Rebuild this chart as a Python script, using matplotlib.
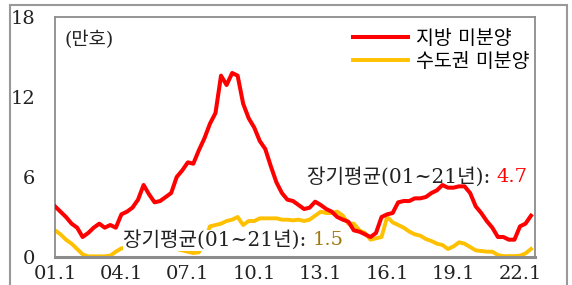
import matplotlib
matplotlib.use('Agg')
import matplotlib.pyplot as plt
import pandas as pd
from matplotlib.patches import Rectangle

# 분기별 시점 (01.1 ~ 22.7)
dates = pd.date_range('2001-01-01', '2022-07-01', freq='3MS')

# 지방 미분양 (만호)
jibang = [3.8, 3.4, 3.0, 2.5, 2.2, 1.5, 1.8, 2.2, 2.5, 2.2, 2.4, 2.2,
          3.2, 3.4, 3.7, 4.3, 5.4, 4.7, 4.1, 4.2, 4.5, 4.8, 6.0, 6.5,
          7.1, 7.0, 8.0, 8.9, 10.0, 10.8, 13.6, 12.9, 13.8, 13.6, 11.5, 10.4,
          9.7, 8.7, 8.1, 6.8, 5.6, 4.8, 4.3, 4.2, 3.9, 3.6, 3.7, 4.15,
          3.9, 3.6, 3.4, 3.0, 2.8, 2.65, 2.0, 1.9, 1.7, 1.5, 1.8, 3.0,
          3.2, 3.3, 4.1, 4.2, 4.2, 4.4, 4.4, 4.5, 4.8, 5.0, 5.4, 5.2,
          5.2, 5.3, 5.3, 4.8, 3.8, 3.3, 2.7, 2.2, 1.5, 1.5, 1.3, 1.3,
          2.3, 2.5, 3.1]

# 수도권 미분양 (만호)
sudo = [2.0, 1.7, 1.3, 1.0, 0.6, 0.2, 0.05, 0.05, 0.05, 0.05, 0.1, 0.4,
        0.65, 0.7, 0.8, 0.9, 1.0, 1.1, 1.0, 0.9, 0.8, 0.7, 0.6, 0.5,
        0.4, 0.3, 0.35, 1.2, 2.3, 2.4, 2.5, 2.7, 2.8, 3.0, 2.4, 2.7,
        2.7, 2.9, 2.9, 2.9, 2.9, 2.8, 2.8, 2.75, 2.8, 2.7, 2.8, 3.1,
        3.4, 3.3, 3.3, 3.4, 3.1, 2.5, 2.5, 2.0, 1.8, 1.3, 1.4, 1.5,
        3.0, 2.6, 2.4, 2.2, 1.9, 1.7, 1.6, 1.35, 1.2, 1.0, 0.9, 0.6,
        0.8, 1.1, 1.0, 0.75, 0.5, 0.45, 0.4, 0.4, 0.15, 0.07, 0.07, 0.07,
        0.1, 0.27, 0.6]

xtick_years = [2001, 2004, 2007, 2010, 2013, 2016, 2019, 2022]
xtick_labels = ['01.1', '04.1', '07.1', '10.1', '13.1', '16.1', '19.1', '22.1']
yticks = [0, 6, 12, 18]

fonts = ['DejaVu Serif', 'Noto Sans CJK KR']
plt.rcParams['font.family'] = fonts

fig = plt.figure(figsize=(5.72, 2.85), dpi=100)
ax = fig.add_axes([0.0962, 0.0982, 0.8391, 0.8422])

# 바깥 테두리
fig.add_artist(Rectangle((10 / 572, -0.05), 557 / 572, 1.05 - 5 / 285,
                         transform=fig.transFigure, fill=False,
                         edgecolor='#999999', linewidth=1.5))

ax.plot(dates, sudo, color='#FFC000', linewidth=2.8, label='수도권 미분양', zorder=2)
ax.plot(dates, jibang, color='#FF0000', linewidth=2.9, label='지방 미분양', zorder=3)

ax.set_ylim(0, 18)
ax.set_xlim(pd.Timestamp('2001-01-01'), pd.Timestamp('2022-09-05'))
ax.set_yticks(yticks)
ax.set_xticks([pd.Timestamp(f'{y}-01-01') for y in xtick_years])
ax.set_xticklabels(xtick_labels)
ax.tick_params(length=0, labelsize=14, colors='#222222')
ax.tick_params(axis='x', pad=6)
ax.tick_params(axis='y', pad=14)

for s in ax.spines.values():
    s.set_color('#8c8c8c')
    s.set_linewidth(1.3)
ax.spines['bottom'].set_linewidth(2.2)

ax.text(0.02, 0.905, '(만호)', transform=ax.transAxes, fontsize=13.5,
        va='center', ha='left', color='#222222')

handles, labels = ax.get_legend_handles_labels()
ax.legend(handles[::-1], labels[::-1], loc='upper right', frameon=False,
          fontsize=14, handlelength=2.8, borderaxespad=0.4,
          labelspacing=0.25, handletextpad=0.4,
          bbox_to_anchor=(1.02, 1.01))

# 장기평균 표시
n1 = ax.text(0.985, 0.335, '4.7', transform=ax.transAxes, ha='right',
             va='center', fontsize=14, color='#FF0000')
ax.annotate('장기평균(01~21년): ', xy=(0, 0.5), xycoords=n1, ha='right',
            va='center', fontsize=14.5, color='#222222')

t2 = ax.text(0.142, 0.07, '장기평균(01~21년): ', transform=ax.transAxes,
             ha='left', va='center', fontsize=14.5, color='#222222',
             zorder=4, bbox=dict(facecolor='white', edgecolor='none', pad=0.5))
ax.annotate('1.5', xy=(1, 0.5), xycoords=t2, ha='left', va='center',
            fontsize=14, color='#A0780A', zorder=4)

fig.savefig('out.png', dpi=100)
